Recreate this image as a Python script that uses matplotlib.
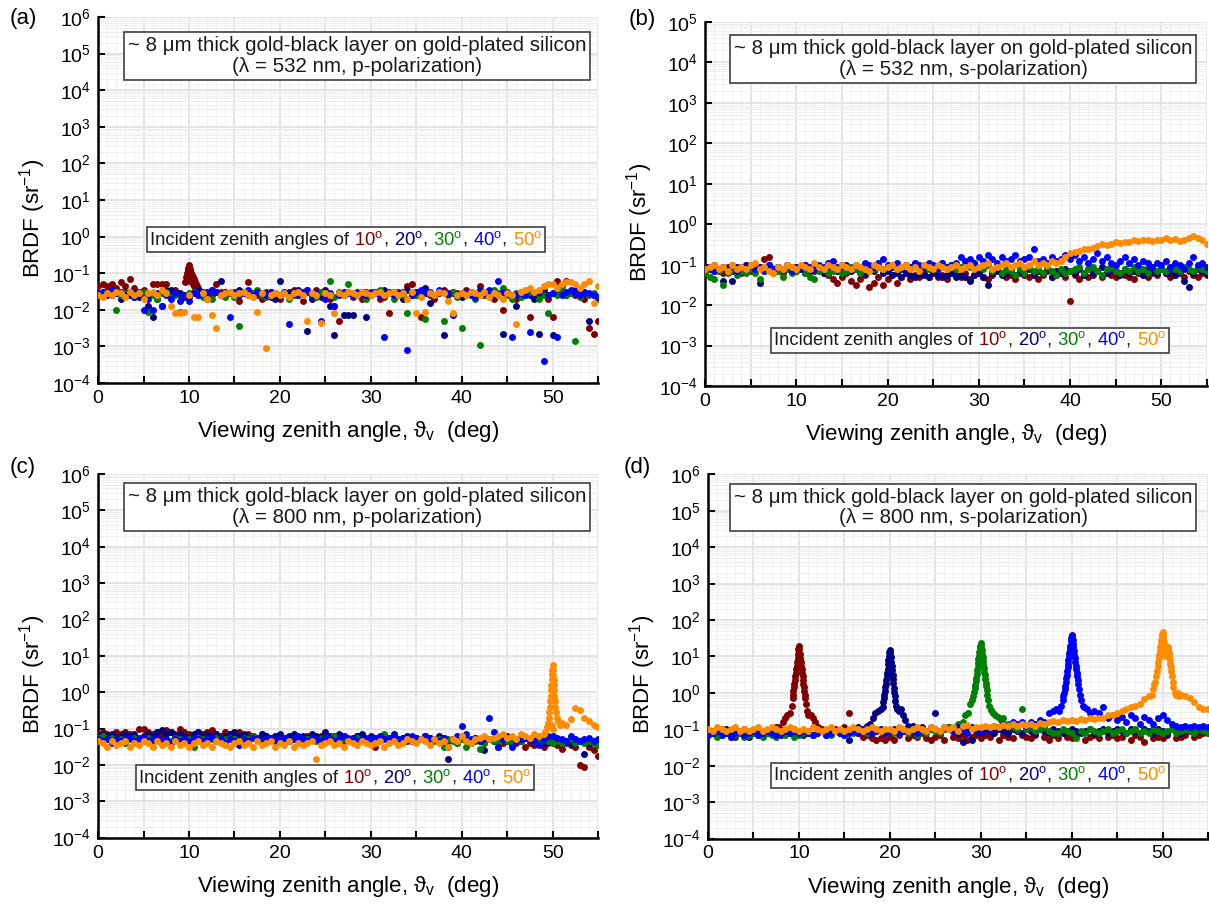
import numpy as np
import matplotlib
matplotlib.use("Agg")
import matplotlib.pyplot as plt
from matplotlib.ticker import LogLocator, MultipleLocator, FuncFormatter, NullFormatter
from matplotlib.offsetbox import AnchoredOffsetbox, HPacker, TextArea

plt.rcParams["font.family"] = ["Liberation Sans", "DejaVu Sans"]
plt.rcParams["mathtext.fontset"] = "custom"
plt.rcParams["mathtext.rm"] = "Liberation Sans"
plt.rcParams["mathtext.it"] = "Liberation Sans:italic"
plt.rcParams["mathtext.bf"] = "Liberation Sans:bold"

nan = np.nan

# incident zenith angles and their colours
ANGLES = [10, 20, 30, 40, 50]
COLORS = ["#800000", "#000080", "#008000", "#0000ff", "#ff8c00"]

# viewing-angle grid of the goniometer scan (deg)
theta = np.arange(0, 55.01, 0.5)

# ---- log10 BRDF on the scan grid; rows of 20 = 10 deg --------------------
# (a) 532 nm, p-pol
a10 = [-1.35, -1.3, -1.35, -1.3, -1.4, -1.25, -1.35, -1.15, -1.4, -1.5, -1.45, -1.6, -1.3, -1.3, -1.3, -1.3, -1.55, -1.45, -1.6, nan,
       nan, nan, -1.45, -1.6, -1.7, -1.6, -1.3, -1.5, -1.6, -1.55, -1.6, -1.75, -1.5, -1.25, -1.55, -1.6, -1.7, -1.5, -1.65, -1.6,
       -1.7, -1.55, -1.6, -1.45, -1.6, -1.75, -1.5, -1.6, -1.45, -1.65, -1.55, -1.7, -1.9, -2.3, -1.6, -1.5, -1.65, -1.55, -1.7, -1.5,
       -1.6, -1.55, -1.7, -1.65, -2.1, -1.6, -1.5, -1.6, -1.35, -1.3, -1.6, -2.2, -1.55, -1.6, -1.7, -1.55, -1.45, -1.6, -1.5, -1.55,
       -1.6, -1.45, -1.5, -1.65, -1.35, -1.6, -1.55, -1.7, -1.6, -2.0, -1.55, -1.6, -1.7, -1.5, -1.6, -2.2, -1.55, -1.6, -1.45, -1.7,
       -2.2, -1.2, -1.35, -1.2, -1.55, -1.6, -1.45, -1.7, -2.5, -2.65, -2.3]
a20 = [-1.6, -1.55, -1.5, -1.6, -1.55, -1.7, -1.5, -1.6, -1.5, -1.65, -1.6, -1.9, -2.2, -1.7, -1.9, -1.45, -1.45, -1.5, -1.55, -1.65,
       -1.65, -1.5, -1.45, -1.55, -1.5, -1.45, -1.5, -1.2, -1.5, -1.55, -1.6, -1.45, -1.5, -1.55, -1.6, -1.5, -1.55, -1.6, -1.5, -1.7,
       -1.2, -1.55, -1.5, -1.6, -1.45, -1.55, -2.58, -1.7, -1.5, -1.6, -1.45, -1.9, -2.7, -1.55, -2.15, -2.15, -2.15, -1.6, -1.5, -2.2,
       -1.55, -1.5, -1.6, -1.45, -1.55, -1.5, -1.6, -1.7, -1.45, -1.6, -1.5, -1.55, -1.4, -1.8, -1.6, -1.5, -2.7, -1.55, -1.55, -1.6,
       -1.65, -1.55, -1.5, -1.6, -1.45, -1.55, -1.6, -1.5, -1.55, -2.65, -1.5, -1.6, -1.9, -1.55, -1.5, -1.6, -1.7, -2.65, -1.55, -1.6,
       -2.7, -1.5, -1.55, -1.6, -1.5, -1.45, -1.6, -1.55, -2.3, -1.6, -1.65]
a30 = [-1.6, -1.5, -1.55, -1.45, -2.0, -1.6, -1.55, -1.5, -1.65, -1.55, -1.5, -2.05, -1.6, -1.7, -1.55, -1.5, -1.65, -1.6, -2.05, -1.6,
       -1.55, -1.5, -1.6, -1.65, -1.55, -1.7, -1.5, -1.6, -1.65, -1.55, -1.65, -2.45, -1.5, -1.6, -1.55, -1.45, -1.6, -1.65, -1.5, -1.55,
       -1.6, -1.55, -1.7, -1.6, -1.5, -1.55, -1.45, -1.6, -1.65, -1.5, -1.55, -1.2, -1.65, -1.5, -1.6, -1.3, -1.55, -1.6, -1.5, -1.7,
       -1.55, -1.5, -1.45, -1.6, -1.55, -1.7, -1.5, -1.6, -2.1, -1.55, -1.6, -1.5, -2.25, -1.55, -1.6, -1.5, -2.3, -1.55, -1.5, -1.65,
       -2.5, -1.6, -1.55, -1.7, -2.95, -1.6, -1.5, -1.45, -1.55, -1.4, -1.6, -1.7, -1.55, -1.65, -1.6, -1.5, -1.55, -1.7, -1.6, -2.1,
       -1.55, -1.6, -1.45, -1.6, -1.55, -2.85, -1.65, -1.5, -1.6, -1.55, -1.7]
a40 = [-1.55, -1.5, -1.6, -1.45, -1.55, -1.5, -1.6, -1.5, -1.65, -1.55, -2.0, -1.7, -2.0, -1.55, -1.9, -1.6, -1.7, -1.55, -1.75, -1.6,
       -1.75, -1.55, -1.6, -1.5, -1.55, -1.45, -1.5, -1.6, -1.55, -2.2, -1.5, -1.6, -1.55, -1.45, -1.6, -1.5, -1.55, -1.6, -1.5, -1.55,
       -1.6, -1.5, -2.4, -1.55, -1.6, -1.5, -1.45, -1.6, -1.55, -2.3, -1.7, -1.55, -1.9, -1.6, -1.5, -1.55, -1.6, -1.5, -1.55, -1.6,
       -1.5, -1.55, -1.6, -2.75, -1.5, -1.6, -1.55, -1.5, -3.1, -1.6, -1.5, -1.45, -1.55, -1.5, -1.6, -1.45, -1.5, -1.55, -2.15, -1.6,
       -1.55, -1.5, -1.6, -1.65, -1.5, -1.55, -1.45, -1.6, -1.2, -1.5, -1.55, -2.75, -1.6, -1.55, -1.6, -2.6, -1.55, -1.5, -3.4, -1.6,
       -1.55, -2.75, -1.6, -1.5, -1.45, -1.55, -1.6, -1.5, -1.55, -1.6, -1.65]
a50 = [-1.6, -1.65, -1.55, -1.6, -1.5, -1.55, -1.65, -1.5, -1.6, -1.55, -1.7, -1.55, -1.5, -1.6, -1.45, -1.55, -1.9, -2.1, -2.1, -2.05,
       -1.6, -2.2, -2.2, -1.55, -1.7, -2.15, -2.5, -1.6, -1.55, -1.5, -1.6, -1.55, -1.5, -1.6, -1.65, -2.05, -1.55, -3.05, -1.6, -1.55,
       -1.6, -1.55, -1.65, -1.55, -1.5, -1.6, -2.3, -1.55, -1.6, -2.35, -1.55, -1.6, -2.1, -1.55, -1.6, -1.5, -1.55, -1.6, -1.5, -1.55,
       -1.6, -1.55, -1.5, -1.6, -1.55, -1.5, -1.6, -1.55, -1.7, -1.5, -2.1, -1.65, -2.05, -1.55, -1.6, -1.5, -1.55, -1.75, -2.1, -1.6,
       -1.55, -1.6, -1.5, -1.55, -1.6, -1.5, -1.65, -1.55, -1.6, -1.7, -1.55, -1.6, -2.4, -1.5, -1.45, -1.4, -1.5, -1.45, -1.35, -1.3,
       -1.3, -1.4, -1.3, -1.25, -1.25, -1.3, -1.4, -1.3, -1.2, -1.8, -1.35]
a10_peak = [(9.6, -1.25), (9.7, -1.1), (9.8, -1.0), (9.85, -0.92), (9.9, -0.85), (9.95, -0.8), (10.0, -0.78),
            (10.05, -0.82), (10.1, -0.88), (10.15, -0.95), (10.2, -1.0), (10.3, -1.05), (10.4, -1.1), (10.5, -1.15),
            (10.6, -1.2), (10.7, -1.25), (10.8, -1.3), (10.9, -1.35), (11.0, -1.4), (11.1, -1.45),
            (9.75, -1.2), (9.9, -1.1), (10.0, -1.0), (10.1, -1.1), (10.2, -1.2), (10.3, -1.25), (10.45, -1.3),
            (10.6, -1.35), (10.75, -1.4), (10.9, -1.5)]

# (b) 532 nm, s-pol
b10 = [-1.1, -1.05, -1.15, -1.1, -1.2, -1.05, -1.15, -1.1, -1.2, -1.0, -1.15, -1.1, -1.05, -0.85, -0.82, -1.1, -1.15, -1.2, -1.1, -1.05,
       -1.15, -1.1, -1.2, -1.05, -1.15, -1.1, -1.2, -1.25, -1.35, -1.45, -1.3, -1.2, -1.4, -1.5, -1.35, -1.25, -1.55, -1.45, -1.3, -1.5,
       -1.35, -1.25, -1.45, -1.3, -1.2, -1.35, -1.25, -1.3, -1.2, -1.3, -1.15, -1.3, -1.25, -1.35, -1.2, -1.25, -1.3, -1.2, -1.35, -1.25,
       -1.2, -1.3, -1.35, -1.25, -1.1, -1.2, -1.3, -1.25, -1.35, -1.2, -1.25, -1.3, -1.2, -1.35, -1.25, -1.15, -1.3, -1.25, -1.2, -1.3,
       -1.89, -1.25, -1.35, -1.2, -1.3, -1.25, -1.15, -1.3, -1.2, -1.25, -1.3, -1.2, -1.25, -1.3, -1.35, -1.2, -1.25, -1.3, -1.2, -1.25,
       -1.1, -1.2, -1.3, -1.25, -1.2, -1.3, -1.15, -1.25, -1.3, -1.2, -1.25]
b20 = [-1.05, -1.1, -1.0, -1.15, -1.4, -1.1, -1.4, -1.05, -1.15, -1.0, -1.1, -1.05, -1.45, -1.1, -1.0, -1.15, -1.05, -1.1, -1.0, -1.15,
       -1.05, -1.1, -1.0, -1.15, -1.1, -1.05, -1.2, -1.1, -1.05, -1.15, -1.1, -1.0, -1.15, -1.1, -1.05, -1.2, -1.1, -1.15, -1.05, -1.2,
       -1.15, -1.25, -1.2, -1.3, -1.2, -1.25, -1.3, -1.2, -1.25, -1.3, -1.2, -1.25, -1.3, -1.25, -1.2, -1.3, -1.25, -1.3, -1.4, -1.25,
       -1.2, -1.3, -1.5, -1.2, -1.15, -1.25, -1.2, -1.1, -1.25, -1.15, -1.2, -1.1, -1.25, -1.15, -1.2, -1.1, -1.3, -1.15, -1.2, -1.1,
       -1.15, -1.2, -1.1, -1.25, -1.1, -1.2, -1.15, -1.05, -1.2, -1.1, -1.15, -1.25, -1.1, -1.2, -1.15, -1.1, -1.25, -1.1, -1.15, -1.2,
       -1.1, -1.2, -1.15, -1.25, -1.1, -1.4, -1.55, -1.2, -1.1, -1.15, -1.2]
b30 = [-1.2, -1.3, -1.35, -1.15, -1.5, -1.2, -1.1, -1.25, -1.15, -1.2, -1.1, -1.2, -1.35, -1.15, -1.1, -1.2, -1.15, -1.3, -1.1, -1.2,
       -1.15, -1.1, -1.2, -1.3, -1.35, -1.15, -1.1, -1.2, -1.15, -1.1, -1.2, -1.15, -1.05, -1.1, -1.2, -1.1, -1.15, -1.1, -1.05, -1.1,
       -1.05, -1.0, -1.05, -1.1, -1.0, -1.05, -0.95, -1.05, -1.0, -1.1, -1.0, -1.05, -0.95, -1.05, -1.0, -1.1, -1.05, -1.0, -1.05, -0.95,
       -1.05, -1.1, -1.0, -1.15, -1.05, -1.2, -1.1, -1.15, -1.25, -1.1, -1.2, -1.05, -1.15, -1.1, -1.2, -1.05, -1.15, -1.25, -1.1, -1.2,
       -1.15, -1.1, -1.05, -1.2, -1.1, -1.05, -1.15, -1.25, -1.1, -1.05, -1.15, -1.2, -1.1, -1.15, -1.05, -1.15, -1.1, -1.2, -1.05, -1.15,
       -1.1, -1.15, -1.05, -1.1, -1.15, -1.05, -1.1, -1.15, -1.05, -1.1, -1.15]
b40 = [-1.1, -1.05, -1.15, -1.1, -1.05, -1.1, -1.0, -1.15, -1.05, -1.1, -1.0, -1.1, -1.05, -1.15, -1.0, -1.1, -1.05, -1.1, -1.0, -1.15,
       -1.05, -1.1, -1.0, -1.05, -1.1, -1.0, -1.05, -0.95, -0.92, -1.05, -1.0, -1.05, -1.1, -1.0, -1.05, -0.95, -1.0, -1.05, -0.95, -0.85,
       -1.0, -1.05, -0.95, -1.1, -1.0, -1.05, -0.95, -1.0, -1.05, -0.95, -1.0, -1.1, -0.95, -1.05, -1.0, -0.95, -0.8, -0.9, -0.85, -0.95,
       -0.8, -0.9, -0.75, -0.85, -0.95, -0.8, -0.9, -0.85, -0.75, -0.9, -0.85, -0.8, -0.62, -0.9, -0.85, -0.95, -0.8, -0.9, -0.85, -0.75,
       -0.85, -0.75, -0.9, -0.8, -0.95, -0.85, -0.7, -0.9, -0.8, -0.95, -1.0, -0.9, -0.8, -0.95, -0.85, -1.0, -0.9, -0.95, -1.05, -0.95,
       -1.0, -0.9, -1.05, -0.95, -1.0, -1.1, -0.95, -0.8, -1.0, -0.95, -1.05]
b50 = [-1.1, -1.05, -1.0, -1.1, -1.05, -1.15, -1.0, -1.1, -1.05, -1.1, -1.0, -0.97, -1.1, -1.05, -1.15, -1.2, -1.05, -1.1, -1.0, -1.05,
       -1.1, -1.0, -1.05, -1.1, -0.95, -1.05, -1.1, -1.0, -1.05, -1.1, -1.0, -1.05, -1.1, -1.0, -1.05, -1.1, -1.15, -1.0, -1.05, -1.1,
       -1.05, -1.0, -1.1, -1.05, -1.0, -1.1, -1.05, -1.15, -1.0, -1.05, -1.1, -1.0, -1.05, -1.1, -1.05, -1.0, -1.1, -1.05, -1.0, -1.1,
       -1.05, -1.0, -0.95, -1.1, -1.05, -1.0, -0.95, -1.05, -1.0, -0.95, -1.05, -1.0, -0.9, -1.0, -0.95, -1.0, -0.9, -0.95, -0.9, -0.8,
       -0.7, -0.68, -0.65, -0.62, -0.6, -0.58, -0.55, -0.5, -0.52, -0.48, -0.45, -0.47, -0.43, -0.45, -0.4, -0.42, -0.4, -0.38, -0.42, -0.4,
       -0.38, -0.35, -0.4, -0.37, -0.42, -0.38, -0.35, -0.3, -0.33, -0.4, -0.5]

# (c) 800 nm, p-pol
c10 = [-1.15, -1.1, -1.15, -1.2, -1.1, -1.15, -1.1, -1.15, -1.2, -1.0, -1.0, -1.1, -1.15, -1.1, -1.2, -1.05, -1.1, -1.15, -1.0, -1.1,
       -1.15, -1.2, -1.1, -1.15, -1.1, -1.05, -1.15, -1.2, -1.1, -1.15, -1.2, -1.1, -1.25, -1.15, -1.2, -1.3, -1.15, -1.2, -1.25, -1.3,
       -1.2, -1.25, -1.3, -1.2, -1.25, -1.35, -1.2, -1.3, -1.25, -1.2, -1.3, -1.25, -1.2, -1.3, -1.35, -1.25, -1.3, -1.2, -1.25, -1.3,
       -1.25, -1.5, -1.3, -1.25, -1.35, -1.2, -1.3, -1.25, -1.3, -1.35, -1.25, -1.3, -1.2, -1.3, -2.45, -1.3, -1.25, -1.35, -1.3, -1.4,
       -1.3, -1.35, -1.4, -1.3, -1.35, -1.4, -1.3, -1.35, -1.5, -1.4, -1.35, -1.45, -1.4, -1.35, -1.5, -1.4, -1.45, -1.35, -1.5, -1.4,
       -1.4, -1.45, -1.55, -1.4, -1.45, -1.5, -2.0, -2.05, -1.5, -1.6, -1.75]
c20 = [-1.2, -1.15, -1.2, -1.15, -1.25, -1.2, -1.15, -1.2, -1.15, -1.25, -1.2, -1.15, -1.2, -1.1, -1.05, -1.15, -1.1, -1.2, -1.15, -1.2,
       -1.25, -1.15, -1.1, -1.2, -1.15, -1.2, -1.15, -1.25, -1.2, -1.15, -1.1, -1.2, -1.15, -1.3, -1.2, -1.25, -1.15, -1.2, -1.3, -1.2,
       -1.15, -1.25, -1.2, -1.15, -1.3, -1.2, -1.25, -1.15, -1.2, -1.25, -1.1, -1.2, -1.25, -1.15, -1.2, -1.3, -1.25, -1.2, -1.15, -1.3,
       -1.2, -1.25, -1.3, -1.2, -1.25, -1.15, -1.3, -1.25, -1.2, -1.35, -1.25, -1.3, -1.2, -1.25, -1.3, -1.2, -1.25, -1.85, -1.3, -1.35,
       -1.25, -1.3, -1.35, -1.25, -1.3, -1.6, -1.3, -1.35, -1.25, -1.3, -1.2, -1.4, -1.3, -1.35, -1.25, -1.3, -1.2, -1.35, -1.4, -1.3,
       -1.35, -1.3, -1.4, -1.35, -1.4, -1.3, -1.35, -1.7, -1.4, -1.35, -1.4]
c30 = [-1.25, -1.2, -1.3, -1.25, -1.35, -1.3, -1.4, -1.3, -1.25, -1.35, -1.3, -1.25, -1.35, -1.3, -1.4, -1.3, -1.35, -1.25, -1.3, -1.35,
       -1.3, -1.5, -1.25, -1.3, -1.35, -1.3, -1.25, -1.35, -1.3, -1.25, -1.3, -1.35, -1.25, -1.3, -1.2, -1.3, -1.35, -1.3, -1.25, -1.35,
       -1.3, -1.25, -1.35, -1.3, -1.25, -1.35, -1.3, -1.25, -1.35, -1.3, -1.25, -1.3, -1.2, -1.3, -1.25, -1.3, -1.35, -1.25, -1.3, -1.35,
       -1.3, -1.25, -1.35, -1.15, -1.3, -1.25, -1.3, -1.35, -1.3, -1.25, -1.35, -1.3, -1.25, -1.3, -1.35, -1.3, -1.5, -1.3, -1.35, -1.4,
       -1.3, -1.5, -1.4, -1.35, -1.55, -1.4, -1.3, -1.35, -1.4, -1.3, -1.35, -1.4, -1.3, -1.35, -1.25, -1.3, -1.35, -1.4, -1.3, -1.35,
       -1.4, -1.35, -1.4, -1.35, -1.3, -1.4, -1.35, -1.4, -1.35, -1.4, -1.45]
c40 = [-1.3, -1.35, -1.3, -1.4, -1.3, -1.35, -1.3, -1.25, -1.35, -1.3, -1.25, -1.35, -1.3, -1.25, -1.35, -1.3, -1.4, -1.3, -1.35, -1.3,
       -1.35, -1.25, -1.3, -1.35, -1.3, -1.25, -1.35, -1.3, -1.4, -1.3, -1.35, -1.45, -1.3, -1.35, -1.25, -1.3, -1.35, -1.3, -1.25, -1.35,
       -1.3, -1.25, -1.35, -1.3, -1.2, -1.3, -1.35, -1.25, -1.3, -1.35, -1.25, -1.3, -1.35, -1.25, -1.2, -1.3, -1.25, -1.35, -1.3, -1.25,
       -1.3, -1.25, -1.2, -1.3, -1.25, -1.2, -1.3, -1.25, -1.35, -1.2, -1.25, -1.3, -1.2, -1.25, -1.3, -1.35, -1.25, -1.5, -1.3, -1.2,
       -0.92, -1.15, -1.3, -1.25, -1.35, -1.3, -0.7, -1.1, -1.5, -1.3, -2.15, -1.5, -1.35, -1.3, -1.25, -1.3, -1.35, -1.45, -1.3, -1.2,
       -1.2, -1.25, -1.3, -1.35, -1.2, -1.3, -1.35, -1.3, -1.25, -1.35, -1.3]
c50 = [-1.35, -1.4, -1.5, -1.35, -1.45, -1.4, -1.35, -1.5, -1.4, -1.45, -1.35, -1.4, -1.5, -1.35, -1.45, -1.4, -1.5, -1.35, -1.45, -1.4,
       -1.5, -1.4, -1.35, -1.45, -1.4, -1.5, -1.35, -1.4, -1.45, -1.5, -1.4, -1.35, -1.45, -1.4, -1.5, -1.35, -1.45, -1.4, -1.35, -1.5,
       -1.4, -1.45, -1.35, -1.5, -1.4, -1.45, -1.4, -1.35, -1.85, -1.45, -1.4, -1.35, -1.45, -1.4, -1.5, -1.35, -1.4, -1.45, -1.35, -1.4,
       -1.45, -1.4, -1.35, -1.5, -1.4, -1.35, -1.45, -1.4, -1.3, -1.35, -1.4, -1.3, -1.35, -1.45, -1.3, -1.4, -1.35, -1.5, -1.3, -1.35,
       -1.2, -1.35, -1.4, -1.3, -1.25, -1.2, -1.3, -1.25, -1.2, -1.15, -1.25, -1.2, -1.3, -1.15, -1.2, -1.25, -1.15, -1.2, -1.15, nan,
       nan, nan, -0.85, -0.9, -0.75, -0.45, -0.5, -0.7, -0.8, -0.9, -0.95]
c50_peak = [(49.2, -1.1), (49.4, -0.95), (49.5, -0.85), (49.6, -0.7), (49.65, -0.55), (49.7, -0.4), (49.75, -0.25),
            (49.8, -0.1), (49.83, 0.05), (49.86, 0.2), (49.9, 0.35), (49.93, 0.5), (49.96, 0.62), (50.0, 0.75),
            (50.03, 0.62), (50.06, 0.48), (50.1, 0.34), (50.13, 0.2), (50.16, 0.05), (50.2, -0.1), (50.25, -0.25),
            (50.3, -0.4), (50.4, -0.55), (50.5, -0.7), (50.6, -0.8), (50.8, -0.9), (49.95, -0.9), (50.05, -1.0)]

# (d) 800 nm, s-pol
d10 = [-1.05, -1.1, -1.15, -1.0, -1.1, -1.05, -1.2, -1.1, -1.0, -1.15, -1.1, -1.05, -1.15, -1.1, -1.05, -0.95, nan, nan, nan, nan,
       nan, nan, nan, nan, nan, -1.0, -1.05, -1.1, -1.0, -1.05, -0.95, -0.55, -1.05, -1.1, -1.2, -1.15, -1.25, -1.3, -1.25, -1.3,
       -1.2, -1.3, -1.15, nan, -1.25, -1.15, -1.2, -1.1, -1.25, -1.3, -1.2, -1.15, -1.3, nan, -1.2, -1.25, -1.15, -1.3, -1.2, -1.15,
       -1.25, -1.15, -1.2, nan, -1.3, -1.15, -1.2, -1.25, nan, -1.15, -1.2, -1.25, -1.15, nan, -1.2, -1.3, -1.15, -1.25, nan, -1.2,
       -1.25, -1.15, nan, -1.3, -1.2, -1.15, -1.25, nan, -1.2, -1.15, -1.25, -1.2, nan, -1.3, -1.15, -1.2, -1.35, nan, -1.25, -1.2,
       -1.25, -1.15, nan, -1.25, -1.2, -1.15, nan, -1.2, -1.15, -1.1, -1.05]
d20 = [-1.1, -1.05, -1.15, -1.1, -1.0, -1.1, -1.15, -1.05, -1.1, -1.2, -1.1, -1.05, -1.15, -1.1, -1.05, -1.1, -1.15, -1.1, -1.05, -1.0,
       -1.1, -1.15, -1.1, -1.15, -1.1, -1.05, -1.15, -1.1, -1.05, -1.1, -1.0, -1.3, -1.05, -0.95, -1.0, -0.9, nan, nan, nan, nan,
       nan, nan, nan, nan, nan, -0.9, -1.0, -0.95, -1.05, -1.0, -0.55, -1.05, -1.0, -0.95, -1.05, -1.1, -1.35, -1.0, -1.3, -1.05,
       -1.1, -1.0, -1.05, -1.1, -1.0, -1.05, -1.1, -1.0, -1.05, -1.1, -1.0, -1.05, -1.1, -1.0, -1.05, -1.1, -1.0, -1.05, -1.1, -1.05,
       -1.0, -1.05, -1.1, -1.05, -1.0, -1.1, -1.05, -1.0, -1.1, -1.05, -1.0, -1.05, -1.1, -1.0, -1.05, -1.1, -1.0, -1.05, -1.1, -1.0,
       -1.05, -1.1, -1.0, -1.05, -1.1, -1.0, -1.05, -1.1, -1.0, -1.05, -1.1]
d30 = [-1.15, -1.1, -1.2, -1.15, -1.1, -1.2, -1.15, -1.1, -1.2, -1.15, -1.1, -1.15, -1.2, -1.1, -1.15, -1.2, -1.1, -1.15, -1.1, -1.2,
       -1.15, -1.1, -1.05, -1.15, -1.1, -1.05, -1.1, -1.15, -1.05, -1.1, -1.15, -1.05, -1.1, -1.05, -1.0, -1.1, -1.05, -1.0, -1.05, -1.1,
       -1.05, -1.1, -1.0, -1.05, -1.1, -1.05, -1.15, -1.05, -1.1, -1.0, -1.05, -1.1, -1.0, -0.95, -1.0, -0.85, nan, nan, nan, nan,
       nan, nan, nan, nan, nan, -0.7, -0.85, -0.95, -1.0, -0.45, -1.0, -0.95, -1.05, -1.0, -0.95, -1.05, -1.1, -1.1, -1.0, -1.05,
       -1.1, -1.25, -1.05, -1.1, -1.0, -1.05, -1.1, -1.05, -1.0, -1.1, -1.05, -1.0, -1.1, -1.05, -1.0, -1.1, -1.05, -1.1, -1.0, -1.05,
       -1.1, -1.05, -1.0, -1.1, -1.05, -1.0, -1.05, -1.1, -1.0, -1.05, -1.1]
d40 = [-1.15, -1.1, -1.05, -1.15, -1.1, -1.2, -1.1, -1.05, -1.15, -1.1, -1.05, -1.15, -1.1, -1.05, -1.1, -1.15, -1.1, -1.05, -1.1, -1.05,
       -1.1, -1.05, -1.1, -1.15, -1.1, -1.05, -1.15, -1.1, -1.05, -1.1, -1.15, -1.1, -1.05, -1.1, -1.0, -1.05, -1.1, -1.05, -1.0, -1.1,
       -1.05, -1.0, -1.1, -1.05, -1.0, -1.05, -1.1, -1.0, -1.05, -0.95, -1.0, -1.05, -0.95, -1.0, -1.05, -0.95, -1.0, -1.1, -0.95, -1.0,
       -1.05, -0.95, -1.0, -0.9, -0.95, -0.85, -0.9, -0.8, -0.85, -0.8, -0.9, -0.8, -0.85, -0.75, -0.8, -0.55, nan, nan, nan, nan,
       nan, nan, nan, nan, nan, -0.5, -0.55, -0.4, -0.7, -0.6, -0.75, -0.65, -0.8, -0.6, -0.7, -0.85, -0.65, -0.75, -0.85, -0.7,
       -0.6, -0.75, -0.85, -0.9, -0.95, -0.9, -0.95, -0.9, -0.95, -0.9, -0.95]
d50 = [-1.0, -1.05, -0.95, -1.0, -1.05, -1.0, -0.95, -1.05, -1.0, -1.05, -1.0, -0.95, -1.05, -1.0, -0.95, -1.0, -1.05, -1.0, -0.95, -1.0,
       -1.05, -1.0, -1.05, -0.95, -1.0, -1.05, -1.0, -0.95, -1.05, -1.0, -1.05, -1.0, -0.95, -1.0, -1.05, -1.0, -0.95, -1.0, -1.05, -1.0,
       -1.0, -1.05, -0.95, -1.0, -1.05, -1.0, -0.95, -1.0, -1.05, -0.95, -1.0, -1.05, -0.95, -1.0, -0.95, -1.05, -0.9, -0.88, -1.0, -0.95,
       -0.95, -0.9, -0.95, -0.9, -0.95, -0.88, -0.9, -0.85, -0.9, -0.85, -0.88, -0.85, -0.9, -0.82, -0.85, -0.8, -0.78, -0.8, -0.75, -0.78,
       -0.75, -0.78, -0.72, -0.75, -0.7, -0.73, -0.68, -0.7, -0.6, -0.62, -0.55, -0.5, -0.45, -0.4, -0.35, -0.3, -0.17, -0.1, nan, nan,
       nan, nan, nan, nan, -0.05, -0.1, -0.15, -0.25, -0.4, -0.45, -0.45]

d10_peak = [(7.8, -0.95), (8.2, -0.8), (8.5, -0.7), (8.7, -0.6), (9.0, -0.55), (9.2, -0.35), (9.3, -0.15), (9.35, -0.05),
            (9.4, 0.05), (9.45, 0.15), (9.5, 0.25), (9.55, 0.35), (9.6, 0.45), (9.65, 0.55), (9.7, 0.65), (9.75, 0.75),
            (9.8, 0.85), (9.85, 0.95), (9.9, 1.08), (9.95, 1.2), (10.0, 1.29), (10.05, 1.2), (10.1, 1.08), (10.15, 0.96),
            (10.2, 0.85), (10.25, 0.75), (10.3, 0.65), (10.35, 0.55), (10.4, 0.45), (10.45, 0.35), (10.5, 0.25),
            (10.55, 0.15), (10.6, 0.05), (10.65, -0.05), (10.7, -0.15), (10.8, -0.3), (10.9, -0.5), (11.0, -0.6),
            (11.3, -0.6), (11.5, -0.7), (11.8, -0.8), (12.1, -0.95)]
d20_peak = [(17.8, -0.85), (18.1, -0.7), (18.4, -0.55), (18.7, -0.5), (19.0, -0.45), (19.2, -0.4), (19.3, -0.25),
            (19.35, -0.15), (19.4, -0.05), (19.45, 0.05), (19.5, 0.15), (19.55, 0.25), (19.6, 0.35), (19.65, 0.45),
            (19.7, 0.55), (19.75, 0.65), (19.8, 0.78), (19.85, 0.9), (19.9, 1.02), (19.95, 1.12), (20.0, 1.19),
            (20.05, 1.1), (20.1, 0.98), (20.15, 0.86), (20.2, 0.74), (20.25, 0.62), (20.3, 0.5), (20.35, 0.38),
            (20.4, 0.26), (20.45, 0.14), (20.5, 0.02), (20.55, -0.1), (20.6, -0.22), (20.7, -0.35), (20.8, -0.45),
            (21.0, -0.5), (21.2, -0.45), (21.4, -0.6), (21.7, -0.75), (22.0, -0.9)]
d30_peak = [(28.0, -0.8), (28.3, -0.6), (28.6, -0.55), (28.8, -0.3), (29.0, -0.2), (29.2, -0.1), (29.3, 0.02),
            (29.35, 0.12), (29.4, 0.22), (29.45, 0.32), (29.5, 0.42), (29.55, 0.52), (29.6, 0.62), (29.65, 0.72),
            (29.7, 0.82), (29.75, 0.92), (29.8, 1.02), (29.85, 1.12), (29.9, 1.22), (29.95, 1.3), (30.0, 1.37),
            (30.05, 1.28), (30.1, 1.18), (30.15, 1.08), (30.2, 0.98), (30.25, 0.88), (30.3, 0.78), (30.35, 0.68),
            (30.4, 0.58), (30.45, 0.48), (30.5, 0.38), (30.55, 0.28), (30.6, 0.18), (30.65, 0.08), (30.7, -0.05),
            (30.8, -0.2), (30.9, -0.35), (31.1, -0.47), (31.3, -0.55), (31.6, -0.6), (31.9, -0.65), (32.2, -0.75)]
d40_peak = [(38.0, -0.5), (38.3, -0.45), (38.6, -0.5), (38.8, -0.35), (39.0, -0.2), (39.1, -0.1), (39.2, 0.0),
            (39.25, 0.1), (39.3, 0.2), (39.35, 0.3), (39.4, 0.4), (39.45, 0.5), (39.5, 0.6), (39.55, 0.7), (39.6, 0.8),
            (39.65, 0.9), (39.7, 1.0), (39.75, 1.1), (39.8, 1.2), (39.85, 1.3), (39.9, 1.42), (39.95, 1.52), (40.0, 1.6),
            (40.05, 1.55), (40.1, 1.45), (40.15, 1.35), (40.2, 1.25), (40.25, 1.15), (40.3, 1.05), (40.35, 0.95),
            (40.4, 0.85), (40.45, 0.75), (40.5, 0.65), (40.55, 0.55), (40.6, 0.45), (40.65, 0.35), (40.7, 0.25),
            (40.8, 0.1), (40.9, -0.05), (41.0, -0.2), (41.2, -0.35), (41.4, -0.4), (41.7, -0.45), (42.0, -0.55)]
d50_peak = [(48.8, -0.05), (49.0, 0.1), (49.1, 0.25), (49.2, 0.3), (49.3, 0.45), (49.4, 0.6), (49.5, 0.75),
            (49.55, 0.85), (49.6, 0.95), (49.65, 1.05), (49.7, 1.15), (49.75, 1.25), (49.8, 1.35), (49.85, 1.45),
            (49.9, 1.55), (49.95, 1.62), (50.0, 1.67), (50.05, 1.6), (50.1, 1.5), (50.15, 1.4), (50.2, 1.3),
            (50.25, 1.2), (50.3, 1.1), (50.35, 1.05), (50.4, 1.0), (50.45, 1.05), (50.5, 1.1), (50.55, 1.2),
            (50.6, 1.26), (50.65, 1.2), (50.7, 1.1), (50.75, 1.0), (50.8, 0.9), (50.85, 0.8), (50.9, 0.7),
            (50.95, 0.6), (51.0, 0.45), (51.1, 0.3), (51.2, 0.15), (51.35, 0.0), (51.5, -0.05), (51.7, 0.0), (51.85, -0.1)]

PANELS = [
    # label, axes rect (fig fraction), y-top exponent, wavelength, polarization, series, peaks,
    # key centre and header top-centre (axes fraction)
    ("(a)", [0.0811, 0.5777, 0.4136, 0.4035], 6, 532, "p", [a10, a20, a30, a40, a50],
     [a10_peak, None, None, None, None], (0.496, 0.391), (0.518, 0.947)),
    ("(b)", [0.5831, 0.5744, 0.4152, 0.4013], 5, 532, "s", [b10, b20, b30, b40, b50],
     [None] * 5, (0.528, 0.126), (0.514, 0.953)),
    ("(c)", [0.0811, 0.0765, 0.4136, 0.4010], 6, 800, "p", [c10, c20, c30, c40, c50],
     [None, None, None, None, c50_peak], (0.474, 0.164), (0.518, 0.963)),
    ("(d)", [0.5856, 0.0755, 0.4136, 0.4015], 6, 800, "s", [d10, d20, d30, d40, d50],
     [d10_peak, d20_peak, d30_peak, d40_peak, d50_peak], (0.524, 0.174), (0.51, 0.963)),
]

LABEL_POS = {"(a)": (0.008, 0.980), "(b)": (0.520, 0.978), "(c)": (0.008, 0.485), "(d)": (0.516, 0.485)}

HEAD_FS = 14.8
KEY_FS = 13.3
TICK_FS = 14
LABEL_FS = 16


def add_angle_key(ax, xy):
    txt = dict(color="#1a1a1a", size=KEY_FS)
    parts = [TextArea("Incident zenith angles of ", textprops=txt)]
    for i, (ang, col) in enumerate(zip(ANGLES, COLORS)):
        parts.append(TextArea(f"{ang}$^{{\\mathrm{{o}}}}$", textprops=dict(color=col, size=KEY_FS)))
        if i < len(ANGLES) - 1:
            parts.append(TextArea(", ", textprops=txt))
    row = HPacker(children=parts, align="baseline", pad=0, sep=0)
    key = AnchoredOffsetbox(loc="center", child=row, pad=0.25, borderpad=0, frameon=True,
                            bbox_to_anchor=xy, bbox_transform=ax.transAxes)
    key.patch.set_boxstyle("square", pad=0)
    key.patch.set_edgecolor("#404040")
    key.patch.set_linewidth(1.2)
    key.set_zorder(5)
    ax.add_artist(key)


def style_axes(ax, ytop):
    ax.set_xlim(0, 55)
    ax.set_ylim(1e-4, 10.0 ** ytop)
    ax.set_yscale("log")
    ax.xaxis.set_major_locator(MultipleLocator(5))
    ax.xaxis.set_minor_locator(MultipleLocator(1))
    ax.xaxis.set_major_formatter(FuncFormatter(lambda v, p: f"{v:.0f}" if round(v) % 10 == 0 else ""))
    ax.yaxis.set_major_locator(LogLocator(base=10, numticks=20))
    ax.yaxis.set_minor_locator(LogLocator(base=10, subs=np.arange(2, 10), numticks=20))
    ax.yaxis.set_minor_formatter(NullFormatter())
    ax.grid(True, which="major", color="#e4e4e4", lw=1.4)
    ax.grid(True, which="minor", color="#efefef", lw=0.8)
    ax.set_axisbelow(True)
    ax.tick_params(which="major", direction="in", length=5, width=1.5, colors="black",
                   labelsize=TICK_FS, pad=5)
    ax.tick_params(which="minor", length=0)
    for side in ("top", "right"):
        ax.spines[side].set_visible(False)
    for side in ("left", "bottom"):
        ax.spines[side].set_linewidth(1.8)
    ax.set_xlabel(r"Viewing zenith angle, ϑ$_{\mathrm{v}}$  (deg)", fontsize=LABEL_FS, labelpad=9)
    ax.set_ylabel(r"BRDF (sr$^{\mathrm{-1}}$)", fontsize=LABEL_FS)
    ax.yaxis.set_label_coords(-0.1, 0.45)


fig = plt.figure(figsize=(12.09, 9.07), dpi=100)

for label, rect, ytop, wl, pol, series, peaks, key_xy, head_xy in PANELS:
    ax = fig.add_axes(rect)
    style_axes(ax, ytop)
    for vals, pk, col in zip(series, peaks, COLORS):
        ax.plot(theta, 10.0 ** np.array(vals), "o", ms=5, color=col, mec="none", zorder=3)
        if pk is not None:
            px, py = zip(*pk)
            ax.plot(px, 10.0 ** np.array(py), "o", ms=5, color=col, mec="none", zorder=3)
    head = (f"~ 8 μm thick gold-black layer on gold-plated silicon\n"
            f"(λ = {wl} nm, {pol}-polarization)")
    ax.text(*head_xy, head, transform=ax.transAxes, ha="center", va="top", fontsize=HEAD_FS,
            color="#1a1a1a", linespacing=1.1, zorder=5,
            bbox=dict(boxstyle="square,pad=0.2", fc="white", ec="#404040", lw=1.2))
    add_angle_key(ax, key_xy)
    fig.text(*LABEL_POS[label], label, fontsize=16, ha="left", va="center")

fig.savefig("out.png", dpi=100)
